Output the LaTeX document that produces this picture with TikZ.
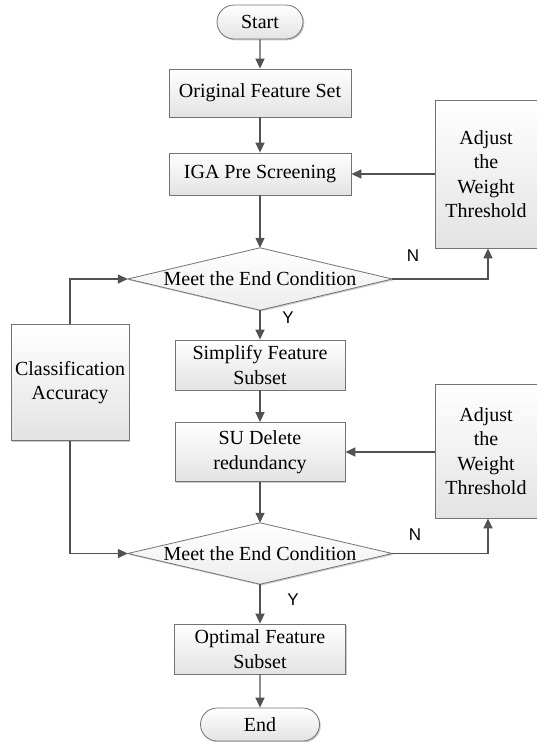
\documentclass[tikz,border=0pt]{standalone}
\usepackage{fontspec}
\setmainfont{Liberation Serif}
\newfontfamily\lsans{Liberation Sans}
\usetikzlibrary{arrows.meta,shapes.misc,shadows,backgrounds}

\begin{document}
\begin{tikzpicture}[x=1pt,y=-1pt,
  shade/.style={draw=black!55, line width=0.8pt, top color=white, bottom color=black!11,
    drop shadow={shadow xshift=1.3pt, shadow yshift=-1.3pt, fill=black!40, opacity=0.5}},
  diashade/.style={shade, top color=white, bottom color=black!7},
  box/.style={shade, font=\fontsize{20}{24.5}\selectfont, align=center, inner sep=0pt},
  term/.style={box, rounded rectangle},
  dia/.style={font=\fontsize{20}{24.5}\selectfont, inner sep=0pt, minimum width=264pt},
  arr/.style={draw=black!68, line width=1.4pt, -{Triangle[length=10pt,width=9pt]}},
  lbl/.style={font=\lsans\fontsize{17}{20}\selectfont, inner sep=0pt}]

\useasboundingbox (0,0) rectangle (537,742);

\node[term, minimum width=86pt, minimum height=34pt] (start) at (260,22) {Start};
\node[box, minimum width=182pt, minimum height=48pt] (ofs) at (260,93) {Original Feature Set};
\node[box, minimum width=182pt, minimum height=42pt] (iga) at (260,174) {IGA Pre Screening};
\node[box, minimum width=102pt, minimum height=148pt] (adj1) at (486,174) {Adjust\\the\\Weight\\Threshold};
\node[dia, minimum height=62pt] (d1) at (260,279) {Meet the End Condition};
\node[box, minimum width=118pt, minimum height=116pt] (ca) at (70,382.5) {Classification\\Accuracy};
\node[box, minimum width=170pt, minimum height=50pt] (sfs) at (260,365) {Simplify Feature\\Subset};
\node[box, minimum width=170pt, minimum height=59pt] (su) at (260,452) {SU Delete\\redundancy};
\node[box, minimum width=102pt, minimum height=134pt] (adj2) at (486,451) {Adjust\\the\\Weight\\Threshold};
\node[dia, minimum height=61pt] (d2) at (260,553.5) {Meet the End Condition};
\node[box, minimum width=171pt, minimum height=50pt] (opt) at (260,649) {Optimal Feature\\Subset};
\node[term, minimum width=119pt, minimum height=33pt] (end) at (260,724.5) {End};

\begin{pgfonlayer}{background}
  \fill[white] (0,0) rectangle (537,742);
  \path[diashade] (d1.west) -- (d1.north) -- (d1.east) -- (d1.south) -- cycle;
  \path[diashade] (d2.west) -- (d2.north) -- (d2.east) -- (d2.south) -- cycle;
\end{pgfonlayer}

\node[lbl] (n1) at (413,256) {N};
\node[lbl] (y1) at (288,318) {Y};
\node[lbl] (n2) at (415,535) {N};
\node[lbl] (y2) at (293,600) {Y};

\draw[arr] (start) -- (ofs);
\draw[arr] (ofs) -- (iga);
\draw[arr] (iga) -- (d1.north);
\draw[arr] (adj1.west |- iga.east) -- (iga.east);
\draw[arr] (d1.east) -| ([xshift=2pt]adj1.south);
\draw[arr] (d1.south) -- (sfs.north);
\draw[arr] (sfs) -- (su);
\draw[arr] (adj2.west |- su.east) -- (su.east);
\draw[arr] (su.south) -- (d2.north);
\draw[arr] (d2.east) -| ([xshift=2pt]adj2.south);
\draw[arr] (d2.south) -- (opt.north);
\draw[arr] (opt) -- (end);
\draw[arr] (ca.north) |- (d1.west);
\draw[arr] (ca.south) |- (d2.west);
\end{tikzpicture}
\end{document}
